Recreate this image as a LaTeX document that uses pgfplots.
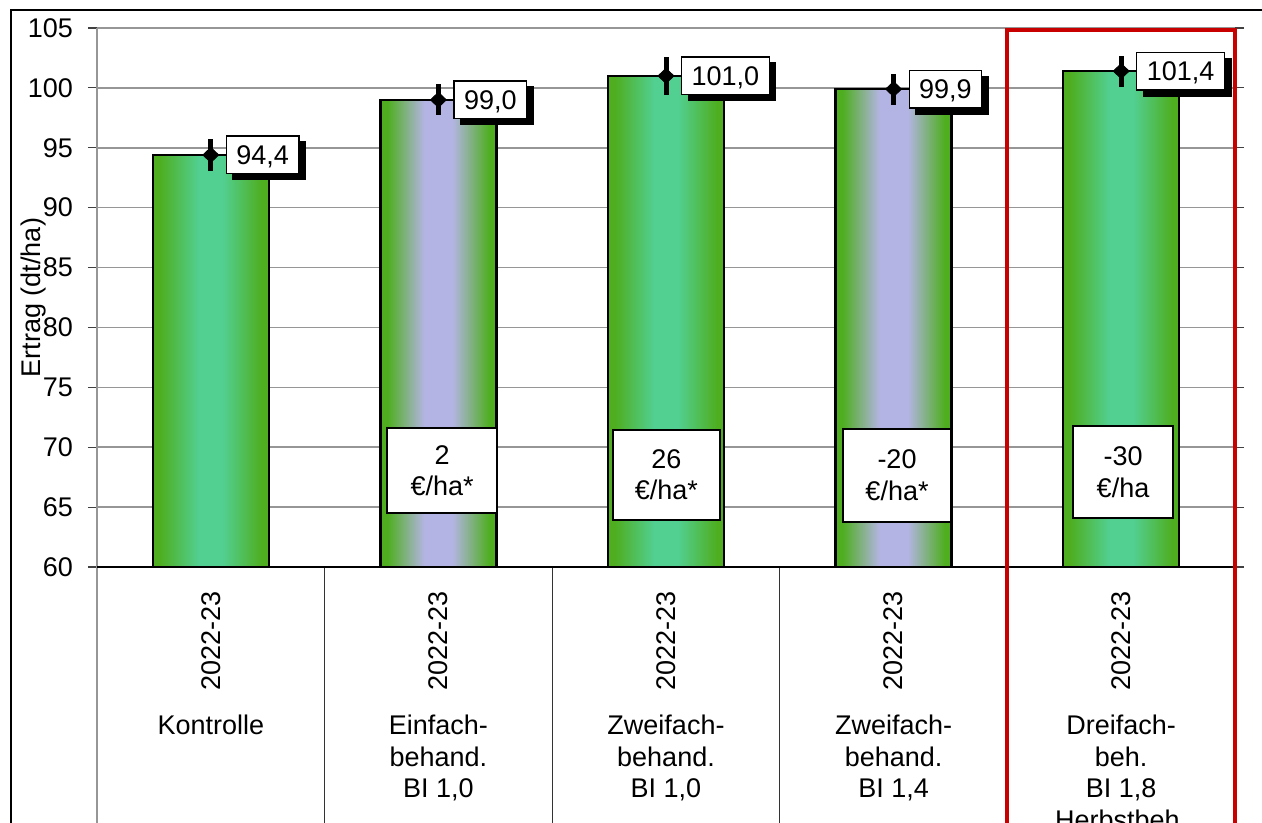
\documentclass[border=0pt]{standalone}
\usepackage{fontspec}
\setmainfont{Liberation Sans}
\usepackage{pgfplots}
\usepackage{pgfplotstable}
\pgfplotsset{compat=1.18}
\usetikzlibrary{shadows}

\definecolor{barg}{RGB}{78,174,32}
\definecolor{mint}{RGB}{82,208,146}
\definecolor{lav}{RGB}{180,180,228}
\definecolor{gridg}{RGB}{150,150,150}
\definecolor{redbox}{RGB}{200,0,0}

% bar fills: green edges, light centre
\pgfdeclarehorizontalshading{mintbar}{100bp}{color(0bp)=(barg); color(28bp)=(barg); color(45bp)=(mint); color(55bp)=(mint); color(72bp)=(barg); color(100bp)=(barg)}
\pgfdeclarehorizontalshading{lavbar}{100bp}{color(0bp)=(barg); color(28bp)=(barg); color(44bp)=(lav); color(56bp)=(lav); color(72bp)=(barg); color(100bp)=(barg)}

\pgfplotstableread{
x y e
0 94.4 1.3
1 99.0 1.3
2 101.0 1.6
3 99.9 1.3
4 101.4 1.3
}\ertrag

\pgfplotsset{barstyle/.style={ybar, bar width=58pt, bar shift=0pt, draw=black, line width=1.2pt}}

\begin{document}
\begin{tikzpicture}[x=1pt,y=1pt]
\useasboundingbox (0,0) rectangle (631,411.5);
\clip (0,0) rectangle (631,411.5);
% outer chart frame
\draw[black, line width=0.8pt] (5.5,-5) -- (5.5,406.5) -- (640,406.5);

\begin{axis}[
    at={(48.5pt,128pt)}, anchor=south west,
    scale only axis, width=569pt, height=269.5pt,
    xmin=-0.5, xmax=4.5, ymin=60, ymax=105,
    ytick={60,65,...,105},
    xtick={0,...,4},
    xticklabels={
      {\rotatebox{90}{2022-23}\\[6.5pt]Kontrolle},
      {\rotatebox{90}{2022-23}\\[6.5pt]Einfach-\\behand.\\BI 1,0},
      {\rotatebox{90}{2022-23}\\[6.5pt]Zweifach-\\behand.\\BI 1,0},
      {\rotatebox{90}{2022-23}\\[6.5pt]Zweifach-\\behand.\\BI 1,4},
      {\rotatebox{90}{2022-23}\\[6.5pt]Dreifach-\\beh.\\BI 1,8\\Herbstbeh.}},
    axis line style={draw=none},
    ymajorgrids, grid style={gridg, line width=0.75pt},
    tick align=outside,
    major tick length=4.5pt,
    ytick style={black!75, line width=0.6pt},
    xtick style={draw=none},
    clip mode=individual,
    font=\fontsize{13.5}{15.75}\selectfont,
    /pgf/number format/assume math mode=true,
    ylabel={Ertrag (dt/ha)},
    ylabel style={at={(axis description cs:-0.0562,0.5)}, anchor=center},
    yticklabel style={xshift=-4pt},
    xticklabel style={anchor=north, align=center, inner sep=0pt, yshift=-7.5pt},
]

% one plot per bar so each bar gets its own shading
\addplot[barstyle, shading=mintbar] coordinates {(0,94.4)};
\addplot[barstyle, shading=lavbar]  coordinates {(1,99.0)};
\addplot[barstyle, shading=mintbar] coordinates {(2,101.0)};
\addplot[barstyle, shading=lavbar]  coordinates {(3,99.9)};
\addplot[barstyle, shading=mintbar] coordinates {(4,101.4)};

% frame lines and category separators
\draw[gridg, line width=0.75pt] (rel axis cs:1,1) -- (rel axis cs:1,0);
\draw[gridg, line width=0.75pt] (rel axis cs:0,1) -- ([yshift=-200pt]rel axis cs:0,0);
\draw[black!80, line width=0.6pt] (axis cs:0.5,60) -- ([yshift=-200pt]axis cs:0.5,60);
\draw[black!80, line width=0.6pt] (axis cs:1.5,60) -- ([yshift=-200pt]axis cs:1.5,60);
\draw[black!80, line width=0.6pt] (axis cs:2.5,60) -- ([yshift=-200pt]axis cs:2.5,60);
\draw[black, line width=0.9pt] (rel axis cs:0,0) -- (rel axis cs:1,0);

\addplot[black, only marks, mark=diamond*, mark size=4pt, mark options={xscale=1.33, yscale=0.94},
  nodes near coords={\pgfmathprintnumber[fixed,fixed zerofill,precision=1,use comma]{\pgfplotspointmeta}},
  every node near coord/.append style={anchor=west, xshift=7.5pt, fill=white, draw=black,
    line width=0.6pt, inner xsep=5pt, inner ysep=4.6pt, text height=9.7pt, text depth=0pt,
    drop shadow={shadow xshift=3.3pt, shadow yshift=-3pt, fill=black, opacity=1}},
  error bars/.cd, y dir=both, y explicit, error bar style={line width=2.5pt}, error mark=none]
  table[x=x, y=y, y error=e] {\ertrag};

% cost boxes
\node[draw, fill=white, line width=0.9pt, minimum width=55pt, minimum height=42.5pt, align=center, inner sep=0pt] at (axis cs:1.016,68.06) {2\\€/ha*};
\node[draw, fill=white, line width=0.9pt, minimum width=53.5pt, minimum height=45pt, align=center, inner sep=0pt] at (axis cs:2.002,67.7) {26\\€/ha*};
\node[draw, fill=white, line width=0.9pt, minimum width=54pt, minimum height=46.5pt, align=center, inner sep=0pt] at (axis cs:3.015,67.65) {-20\\€/ha*};
\node[draw, fill=white, line width=0.9pt, minimum width=50pt, minimum height=46pt, align=center, inner sep=0pt] at (axis cs:4.008,67.9) {-30\\€/ha};

% highlighted last category
\draw[redbox, line width=2pt] ([yshift=-200pt]axis cs:3.5,60) -- ([yshift=-1pt]axis cs:3.5,105) -- ([yshift=-1pt]axis cs:4.5,105) -- ([yshift=-200pt]axis cs:4.5,60);
\end{axis}
\end{tikzpicture}
\end{document}
